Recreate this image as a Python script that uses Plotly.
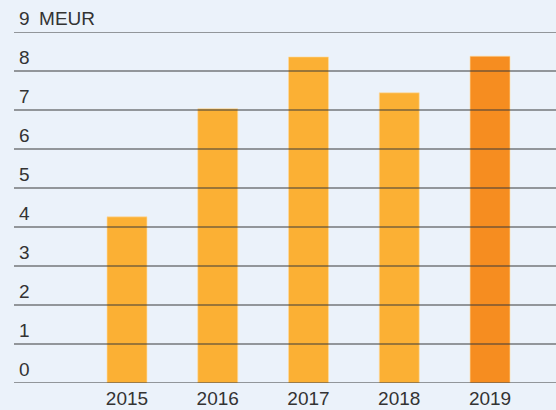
import plotly.graph_objects as go

# Data
years = [2015, 2016, 2017, 2018, 2019]
values = [4.26, 7.03, 8.36, 7.44, 8.38]
bar_colors = ["#FBB034", "#FBB034", "#FBB034", "#FBB034", "#F68D20"]
y_ticks = [0, 1, 2, 3, 4, 5, 6, 7, 8, 9]
y_labels = ["0", "1", "2", "3", "4", "5", "6", "7", "8", "9\u2002MEUR"]

BG = "#EBF2FA"
TEXT = "#333333"
GRID = "rgba(60,60,60,0.68)"
FONT = "Liberation Sans, Arial, sans-serif"

fig = go.Figure()

fig.add_trace(
    go.Bar(
        x=years,
        y=values,
        marker=dict(color=bar_colors, line=dict(color="rgba(255,220,160,0.6)", width=1)),
        width=0.44,
        hoverinfo="x+y",
    )
)

# gridlines sit on top of the bars in the original
for t in y_ticks:
    fig.add_hline(y=t, line_color=GRID, line_width=1.6, layer="above")

# y labels sit just above each gridline, at the left edge
for t, lab in zip(y_ticks, y_labels):
    fig.add_annotation(
        x=0.006, xref="paper", y=t, yref="y",
        text=lab, showarrow=False,
        xanchor="left", yanchor="bottom", yshift=1,
        font=dict(size=19, color=TEXT, family=FONT),
    )

fig.update_layout(
    width=556,
    height=410,
    margin=dict(l=14, r=0, t=32, b=27),
    paper_bgcolor=BG,
    plot_bgcolor=BG,
    showlegend=False,
    font=dict(family=FONT, color=TEXT, size=19),
)

fig.update_xaxes(
    range=[2013.755, 2019.727],
    tickvals=years,
    ticktext=[str(y) for y in years],
    showgrid=False,
    zeroline=False,
    showline=False,
    ticks="",
    ticklabelstandoff=2,
    tickfont=dict(size=19, color=TEXT),
)
fig.update_yaxes(
    range=[0, 9],
    showgrid=False,
    zeroline=False,
    showticklabels=False,
    ticks="",
)

# drop the default page margin so the figure fills the window
fig.write_html(
    "out.html",
    config={"displayModeBar": False},
    post_script="document.body.style.margin='0';document.body.style.background='%s';" % BG,
)
